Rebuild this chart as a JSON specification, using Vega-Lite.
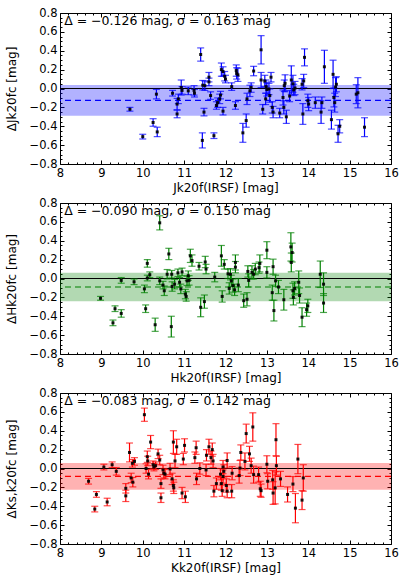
{
  "$schema": "https://vega.github.io/schema/vega-lite/v6.json",
  "padding": {"left": 4, "top": 6, "right": 0, "bottom": 2},
  "background": "white",
  "spacing": 39,
  "bounds": "flush",
  "datasets": {
    "J": [
      {"x":9.69,"y":-0.22,"e":0.02},{"x":10.0,"y":-0.51,"e":0.025},{"x":10.25,"y":-0.36,"e":0.04},{"x":10.35,"y":-0.46,"e":0.05},
      {"x":10.33,"y":-0.06,"e":0.05},{"x":10.72,"y":-0.05,"e":0.03},{"x":10.83,"y":-0.27,"e":0.04},{"x":10.83,"y":-0.165,"e":0.06},
      {"x":10.86,"y":-0.11,"e":0.05},{"x":10.93,"y":0.01,"e":0.08},{"x":10.95,"y":-0.02,"e":0.04},{"x":11.1,"y":-0.025,"e":0.04},
      {"x":11.24,"y":-0.02,"e":0.05},{"x":11.25,"y":-0.05,"e":0.04},{"x":11.4,"y":0.36,"e":0.07},{"x":11.44,"y":-0.55,"e":0.08},
      {"x":11.45,"y":0.035,"e":0.05},{"x":11.5,"y":0.03,"e":0.05},{"x":11.48,"y":-0.25,"e":0.04},{"x":11.6,"y":0.12,"e":0.05},
      {"x":11.6,"y":0.07,"e":0.04},{"x":11.64,"y":-0.075,"e":0.04},{"x":11.72,"y":-0.5,"e":0.03},{"x":11.78,"y":-0.18,"e":0.04},
      {"x":11.81,"y":-0.15,"e":0.05},{"x":11.86,"y":-0.11,"e":0.05},{"x":11.88,"y":-0.07,"e":0.04},{"x":11.9,"y":0.2,"e":0.07},
      {"x":11.94,"y":0.18,"e":0.05},{"x":11.94,"y":-0.24,"e":0.04},{"x":11.98,"y":0.13,"e":0.05},{"x":12.0,"y":0.1,"e":0.04},
      {"x":12.15,"y":0.02,"e":0.04},{"x":12.24,"y":-0.18,"e":0.04},{"x":12.26,"y":0.19,"e":0.06},{"x":12.27,"y":0.16,"e":0.06},
      {"x":12.3,"y":0.145,"e":0.07},{"x":12.42,"y":-0.47,"e":0.1},{"x":12.5,"y":-0.34,"e":0.07},{"x":12.52,"y":-0.11,"e":0.06},
      {"x":12.59,"y":-0.025,"e":0.06},{"x":12.62,"y":0.01,"e":0.05},{"x":12.68,"y":0.185,"e":0.05},{"x":12.86,"y":0.41,"e":0.15},
      {"x":12.86,"y":0.09,"e":0.08},{"x":12.9,"y":-0.22,"e":0.05},{"x":12.95,"y":0.08,"e":0.06},{"x":12.97,"y":-0.11,"e":0.06},
      {"x":12.98,"y":0.02,"e":0.07},{"x":13.0,"y":-0.01,"e":0.07},{"x":13.05,"y":-0.005,"e":0.06},{"x":13.07,"y":-0.075,"e":0.07},
      {"x":13.1,"y":0.12,"e":0.05},{"x":13.13,"y":-0.2,"e":0.06},{"x":13.15,"y":-0.25,"e":0.06},{"x":13.31,"y":-0.26,"e":0.05},
      {"x":13.39,"y":-0.095,"e":0.08},{"x":13.41,"y":-0.2,"e":0.07},{"x":13.42,"y":0.03,"e":0.06},{"x":13.44,"y":0.055,"e":0.09},
      {"x":13.47,"y":-0.3,"e":0.07},{"x":13.55,"y":-0.08,"e":0.06},{"x":13.59,"y":0.09,"e":0.15},{"x":13.63,"y":0.05,"e":0.09},
      {"x":13.65,"y":-0.015,"e":0.06},{"x":13.68,"y":0.005,"e":0.07},{"x":13.85,"y":0.045,"e":0.06},{"x":13.87,"y":-0.27,"e":0.11},
      {"x":13.89,"y":0.08,"e":0.07},{"x":13.91,"y":0.33,"e":0.09},{"x":13.99,"y":-0.13,"e":0.07},{"x":14.01,"y":-0.165,"e":0.07},
      {"x":14.17,"y":-0.15,"e":0.06},{"x":14.31,"y":-0.25,"e":0.12},{"x":14.33,"y":-0.15,"e":0.06},{"x":14.39,"y":0.23,"e":0.175},
      {"x":14.56,"y":-0.33,"e":0.1},{"x":14.6,"y":0.15,"e":0.15},{"x":14.62,"y":-0.095,"e":0.1},{"x":14.64,"y":-0.15,"e":0.1},
      {"x":14.66,"y":0.015,"e":0.1},{"x":14.68,"y":0.045,"e":0.08},{"x":14.72,"y":-0.48,"e":0.09},{"x":14.76,"y":-0.4,"e":0.07},
      {"x":15.16,"y":-0.06,"e":0.1},{"x":15.2,"y":-0.045,"e":0.16},{"x":15.36,"y":-0.41,"e":0.1}
    ],
    "H": [
      {"x":8.98,"y":-0.21,"e":0.02},{"x":9.28,"y":-0.47,"e":0.03},{"x":9.33,"y":-0.32,"e":0.03},{"x":9.48,"y":-0.37,"e":0.04},
      {"x":9.48,"y":-0.02,"e":0.03},{"x":9.79,"y":-0.035,"e":0.03},{"x":10.04,"y":-0.11,"e":0.04},{"x":10.07,"y":-0.32,"e":0.04},
      {"x":10.11,"y":0.16,"e":0.04},{"x":10.11,"y":0.005,"e":0.03},{"x":10.17,"y":0.04,"e":0.03},{"x":10.3,"y":-0.49,"e":0.07},
      {"x":10.41,"y":0.59,"e":0.075},{"x":10.41,"y":-0.025,"e":0.04},{"x":10.49,"y":-0.07,"e":0.04},{"x":10.52,"y":-0.13,"e":0.05},
      {"x":10.59,"y":0.045,"e":0.05},{"x":10.63,"y":0.26,"e":0.06},{"x":10.69,"y":-0.51,"e":0.11},{"x":10.7,"y":0.045,"e":0.04},
      {"x":10.71,"y":-0.085,"e":0.05},{"x":10.77,"y":-0.06,"e":0.05},{"x":10.85,"y":0.06,"e":0.04},{"x":10.89,"y":-0.04,"e":0.05},
      {"x":10.92,"y":-0.11,"e":0.05},{"x":10.95,"y":0.07,"e":0.04},{"x":11.03,"y":-0.165,"e":0.05},{"x":11.05,"y":-0.19,"e":0.05},
      {"x":11.07,"y":-0.025,"e":0.05},{"x":11.1,"y":0.03,"e":0.05},{"x":11.12,"y":-0.02,"e":0.05},{"x":11.15,"y":0.24,"e":0.07},
      {"x":11.19,"y":0.19,"e":0.06},{"x":11.36,"y":0.13,"e":0.04},{"x":11.4,"y":-0.305,"e":0.1},{"x":11.49,"y":-0.245,"e":0.07},
      {"x":11.51,"y":0.175,"e":0.06},{"x":11.53,"y":0.1,"e":0.05},{"x":11.74,"y":0.015,"e":0.05},{"x":11.9,"y":0.24,"e":0.11},
      {"x":11.92,"y":-0.19,"e":0.06},{"x":11.97,"y":0.15,"e":0.05},{"x":12.06,"y":0.05,"e":0.05},{"x":12.09,"y":-0.105,"e":0.06},
      {"x":12.12,"y":0.045,"e":0.06},{"x":12.14,"y":-0.025,"e":0.06},{"x":12.18,"y":-0.075,"e":0.07},{"x":12.22,"y":-0.12,"e":0.06},
      {"x":12.24,"y":0.17,"e":0.08},{"x":12.24,"y":0.12,"e":0.06},{"x":12.31,"y":-0.07,"e":0.07},{"x":12.44,"y":-0.235,"e":0.07},
      {"x":12.52,"y":-0.22,"e":0.07},{"x":12.54,"y":0.075,"e":0.06},{"x":12.56,"y":-0.02,"e":0.07},{"x":12.64,"y":0.065,"e":0.07},
      {"x":12.68,"y":0.045,"e":0.05},{"x":12.72,"y":0.1,"e":0.06},{"x":12.83,"y":0.16,"e":0.09},{"x":12.81,"y":0.115,"e":0.06},
      {"x":13.0,"y":0.3,"e":0.09},{"x":13.0,"y":0.065,"e":0.06},{"x":13.13,"y":-0.15,"e":0.08},{"x":13.15,"y":0.125,"e":0.08},
      {"x":13.17,"y":-0.34,"e":0.11},{"x":13.21,"y":-0.025,"e":0.06},{"x":13.28,"y":-0.09,"e":0.07},{"x":13.41,"y":-0.225,"e":0.11},
      {"x":13.58,"y":0.335,"e":0.15},{"x":13.59,"y":0.17,"e":0.1},{"x":13.61,"y":0.275,"e":0.1},{"x":13.63,"y":-0.13,"e":0.08},
      {"x":13.64,"y":-0.2,"e":0.08},{"x":13.67,"y":-0.105,"e":0.07},{"x":13.77,"y":-0.04,"e":0.12},{"x":13.79,"y":-0.18,"e":0.08},
      {"x":13.85,"y":-0.41,"e":0.1},{"x":13.96,"y":-0.33,"e":0.07},{"x":13.99,"y":-0.29,"e":0.07},{"x":14.29,"y":0.045,"e":0.14},
      {"x":14.37,"y":-0.06,"e":0.12},{"x":14.37,"y":-0.26,"e":0.1}
    ],
    "K": [
      {"x":8.69,"y":-0.135,"e":0.03},{"x":8.84,"y":-0.43,"e":0.03},{"x":8.88,"y":-0.275,"e":0.03},{"x":9.06,"y":0.015,"e":0.03},
      {"x":9.14,"y":-0.355,"e":0.04},{"x":9.26,"y":0.04,"e":0.03},{"x":9.36,"y":-0.03,"e":0.04},{"x":9.59,"y":-0.21,"e":0.05},
      {"x":9.59,"y":-0.29,"e":0.06},{"x":9.68,"y":0.17,"e":0.1},{"x":9.72,"y":-0.1,"e":0.05},{"x":9.75,"y":0.055,"e":0.04},
      {"x":9.76,"y":-0.145,"e":0.05},{"x":9.8,"y":0.075,"e":0.04},{"x":10.04,"y":0.57,"e":0.07},{"x":10.08,"y":0.0,"e":0.05},
      {"x":10.11,"y":0.125,"e":0.06},{"x":10.12,"y":0.08,"e":0.05},{"x":10.14,"y":-0.06,"e":0.05},{"x":10.19,"y":0.28,"e":0.07},
      {"x":10.25,"y":0.04,"e":0.04},{"x":10.27,"y":0.015,"e":0.04},{"x":10.31,"y":0.03,"e":0.04},{"x":10.37,"y":0.155,"e":0.05},
      {"x":10.41,"y":0.09,"e":0.05},{"x":10.44,"y":-0.16,"e":0.05},{"x":10.44,"y":-0.31,"e":0.05},{"x":10.49,"y":-0.015,"e":0.05},
      {"x":10.51,"y":-0.05,"e":0.05},{"x":10.54,"y":-0.06,"e":0.05},{"x":10.66,"y":-0.005,"e":0.06},{"x":10.71,"y":-0.11,"e":0.06},
      {"x":10.74,"y":0.28,"e":0.12},{"x":10.74,"y":-0.18,"e":0.06},{"x":10.75,"y":-0.205,"e":0.06},{"x":10.78,"y":0.08,"e":0.07},
      {"x":10.82,"y":0.23,"e":0.08},{"x":10.95,"y":-0.26,"e":0.06},{"x":10.98,"y":0.1,"e":0.06},{"x":11.01,"y":0.245,"e":0.07},
      {"x":11.03,"y":-0.3,"e":0.06},{"x":11.26,"y":0.115,"e":0.06},{"x":11.29,"y":0.22,"e":0.07},{"x":11.3,"y":-0.11,"e":0.06},
      {"x":11.38,"y":0.0,"e":0.06},{"x":11.53,"y":-0.015,"e":0.06},{"x":11.54,"y":0.14,"e":0.06},{"x":11.6,"y":0.23,"e":0.08},
      {"x":11.65,"y":0.115,"e":0.07},{"x":11.68,"y":0.2,"e":0.07},{"x":11.7,"y":0.08,"e":0.07},{"x":11.72,"y":-0.24,"e":0.06},
      {"x":11.78,"y":-0.16,"e":0.06},{"x":11.88,"y":-0.06,"e":0.06},{"x":11.9,"y":-0.16,"e":0.07},{"x":11.92,"y":-0.235,"e":0.06},
      {"x":11.94,"y":-0.085,"e":0.07},{"x":11.94,"y":0.015,"e":0.07},{"x":11.96,"y":-0.03,"e":0.07},{"x":12.02,"y":-0.18,"e":0.07},
      {"x":12.04,"y":-0.24,"e":0.07},{"x":12.04,"y":0.085,"e":0.08},{"x":12.15,"y":-0.24,"e":0.07},{"x":12.16,"y":-0.05,"e":0.07},
      {"x":12.33,"y":-0.075,"e":0.08},{"x":12.35,"y":0.005,"e":0.08},{"x":12.37,"y":0.17,"e":0.08},{"x":12.47,"y":0.075,"e":0.09},
      {"x":12.5,"y":0.37,"e":0.1},{"x":12.58,"y":0.155,"e":0.08},{"x":12.62,"y":0.03,"e":0.08},{"x":12.66,"y":0.44,"e":0.15},
      {"x":12.68,"y":-0.065,"e":0.09},{"x":12.8,"y":-0.065,"e":0.08},{"x":12.84,"y":-0.215,"e":0.08},{"x":12.86,"y":-0.235,"e":0.07},
      {"x":13.0,"y":0.045,"e":0.09},{"x":13.02,"y":-0.135,"e":0.08},{"x":13.14,"y":-0.12,"e":0.1},{"x":13.15,"y":-0.26,"e":0.12},
      {"x":13.2,"y":-0.205,"e":0.17},{"x":13.22,"y":0.305,"e":0.17},{"x":13.23,"y":0.03,"e":0.1},{"x":13.33,"y":-0.11,"e":0.08},
      {"x":13.5,"y":-0.275,"e":0.08},{"x":13.63,"y":-0.165,"e":0.08},{"x":13.69,"y":-0.42,"e":0.155},{"x":13.75,"y":0.1,"e":0.155},
      {"x":13.85,"y":-0.335,"e":0.1},{"x":13.88,"y":-0.1,"e":0.14}
    ]
  },
  "vconcat": [
    {
      "width": 331, "height": 151,
      "layer": [
        {"data": {"values": [{"lo": -0.289, "hi": 0.037}]},
         "mark": {"type": "rect", "color": "#0000ff", "opacity": 0.3},
         "encoding": {"y": {"field": "lo", "type": "quantitative", "scale": {"domain": [-0.8, 0.8], "nice": false, "zero": false},
                            "axis": {"orient": "right", "values": [-0.8,-0.6,-0.4,-0.2,0,0.2,0.4,0.6,0.8], "tickSize": -4, "labels": false, "title": null}},
                      "y2": {"field": "hi"}}},
        {"data": {"values": [{"z": 0}]},
         "mark": {"type": "rule", "color": "black", "strokeWidth": 1},
         "encoding": {"y": {"field": "z", "type": "quantitative",
                            "axis": {"orient": "right", "values": [-0.75,-0.7,-0.65,-0.55,-0.5,-0.45,-0.35,-0.3,-0.25,-0.15,-0.1,-0.05,0.05,0.1,0.15,0.25,0.3,0.35,0.45,0.5,0.55,0.65,0.7,0.75], "tickSize": -2, "labels": false, "title": null}}}},
        {"data": {"values": [{"m": -0.126}]},
         "mark": {"type": "rule", "color": "#0000ff", "strokeWidth": 1.2, "strokeDash": [6, 4]},
         "encoding": {"y": {"field": "m", "type": "quantitative", "axis": null}}},
        {"data": {"name": "J"},
         "mark": {"type": "errorbar", "color": "#0000ff", "thickness": 1.2, "ticks": {"size": 7}},
         "encoding": {"x": {"field": "x", "type": "quantitative", "scale": {"domain": [8, 16], "nice": false, "zero": false},
                            "axis": {"orient": "bottom", "values": [8,9,10,11,12,13,14,15,16], "format": "d", "tickSize": -4, "labelPadding": 7, "title": "Jk20f(IRSF) [mag]", "titlePadding": 4}},
                      "y": {"field": "y", "type": "quantitative",
                            "axis": {"orient": "left", "values": [-0.8,-0.6,-0.4,-0.2,0,0.2,0.4,0.6,0.8], "format": ".1f", "tickSize": -4, "labelPadding": 7, "title": "ΔJk20fc [mag]", "titlePadding": 11}},
                      "yError": {"field": "e"}}},
        {"data": {"name": "J"},
         "mark": {"type": "square", "size": 9, "color": "#000000", "opacity": 0.9},
         "encoding": {"x": {"field": "x", "type": "quantitative",
                            "axis": {"orient": "bottom", "values": [8.2,8.4,8.6,8.8,9.2,9.4,9.6,9.8,10.2,10.4,10.6,10.8,11.2,11.4,11.6,11.8,12.2,12.4,12.6,12.8,13.2,13.4,13.6,13.8,14.2,14.4,14.6,14.8,15.2,15.4,15.6,15.8], "tickSize": -2, "labels": false, "title": null}},
                      "y": {"field": "y", "type": "quantitative",
                            "axis": {"orient": "left", "values": [-0.75,-0.7,-0.65,-0.55,-0.5,-0.45,-0.35,-0.3,-0.25,-0.15,-0.1,-0.05,0.05,0.1,0.15,0.25,0.3,0.35,0.45,0.5,0.55,0.65,0.7,0.75], "tickSize": -2, "labels": false, "title": null}}}},
        {"data": {"values": [{"tx": 8.1, "ty": 0.715, "t": "Δ = −0.126 mag, σ = 0.163 mag"}]},
         "mark": {"type": "text", "align": "left", "baseline": "middle", "fontSize": 12.5, "font": "DejaVu Sans", "color": "black"},
         "encoding": {"x": {"field": "tx", "type": "quantitative",
                            "axis": {"orient": "top", "values": [8,9,10,11,12,13,14,15,16], "tickSize": -4, "labels": false, "title": null}},
                      "y": {"field": "ty", "type": "quantitative", "axis": null},
                      "text": {"field": "t"}}},
        {"data": {"name": "J"},
         "mark": {"type": "point", "opacity": 0},
         "encoding": {"x": {"field": "x", "type": "quantitative",
                            "axis": {"orient": "top", "values": [8.2,8.4,8.6,8.8,9.2,9.4,9.6,9.8,10.2,10.4,10.6,10.8,11.2,11.4,11.6,11.8,12.2,12.4,12.6,12.8,13.2,13.4,13.6,13.8,14.2,14.4,14.6,14.8,15.2,15.4,15.6,15.8], "tickSize": -2, "labels": false, "title": null}}}}
      ],
      "resolve": {"axis": {"x": "independent", "y": "independent"}}
    },
    {
      "width": 331, "height": 151,
      "layer": [
        {"data": {"values": [{"lo": -0.24, "hi": 0.06}]},
         "mark": {"type": "rect", "color": "#008000", "opacity": 0.3},
         "encoding": {"y": {"field": "lo", "type": "quantitative", "scale": {"domain": [-0.8, 0.8], "nice": false, "zero": false},
                            "axis": {"orient": "right", "values": [-0.8,-0.6,-0.4,-0.2,0,0.2,0.4,0.6,0.8], "tickSize": -4, "labels": false, "title": null}},
                      "y2": {"field": "hi"}}},
        {"data": {"values": [{"z": 0}]},
         "mark": {"type": "rule", "color": "black", "strokeWidth": 1},
         "encoding": {"y": {"field": "z", "type": "quantitative",
                            "axis": {"orient": "right", "values": [-0.75,-0.7,-0.65,-0.55,-0.5,-0.45,-0.35,-0.3,-0.25,-0.15,-0.1,-0.05,0.05,0.1,0.15,0.25,0.3,0.35,0.45,0.5,0.55,0.65,0.7,0.75], "tickSize": -2, "labels": false, "title": null}}}},
        {"data": {"values": [{"m": -0.09}]},
         "mark": {"type": "rule", "color": "#008000", "strokeWidth": 1.2, "strokeDash": [6, 4]},
         "encoding": {"y": {"field": "m", "type": "quantitative", "axis": null}}},
        {"data": {"name": "H"},
         "mark": {"type": "errorbar", "color": "#008000", "thickness": 1.2, "ticks": {"size": 7}},
         "encoding": {"x": {"field": "x", "type": "quantitative", "scale": {"domain": [8, 16], "nice": false, "zero": false},
                            "axis": {"orient": "bottom", "values": [8,9,10,11,12,13,14,15,16], "format": "d", "tickSize": -4, "labelPadding": 7, "title": "Hk20f(IRSF) [mag]", "titlePadding": 4}},
                      "y": {"field": "y", "type": "quantitative",
                            "axis": {"orient": "left", "values": [-0.8,-0.6,-0.4,-0.2,0,0.2,0.4,0.6,0.8], "format": ".1f", "tickSize": -4, "labelPadding": 7, "title": "ΔHk20fc [mag]", "titlePadding": 11}},
                      "yError": {"field": "e"}}},
        {"data": {"name": "H"},
         "mark": {"type": "square", "size": 9, "color": "#000000", "opacity": 0.9},
         "encoding": {"x": {"field": "x", "type": "quantitative",
                            "axis": {"orient": "bottom", "values": [8.2,8.4,8.6,8.8,9.2,9.4,9.6,9.8,10.2,10.4,10.6,10.8,11.2,11.4,11.6,11.8,12.2,12.4,12.6,12.8,13.2,13.4,13.6,13.8,14.2,14.4,14.6,14.8,15.2,15.4,15.6,15.8], "tickSize": -2, "labels": false, "title": null}},
                      "y": {"field": "y", "type": "quantitative",
                            "axis": {"orient": "left", "values": [-0.75,-0.7,-0.65,-0.55,-0.5,-0.45,-0.35,-0.3,-0.25,-0.15,-0.1,-0.05,0.05,0.1,0.15,0.25,0.3,0.35,0.45,0.5,0.55,0.65,0.7,0.75], "tickSize": -2, "labels": false, "title": null}}}},
        {"data": {"values": [{"tx": 8.1, "ty": 0.715, "t": "Δ = −0.090 mag, σ = 0.150 mag"}]},
         "mark": {"type": "text", "align": "left", "baseline": "middle", "fontSize": 12.5, "font": "DejaVu Sans", "color": "black"},
         "encoding": {"x": {"field": "tx", "type": "quantitative",
                            "axis": {"orient": "top", "values": [8,9,10,11,12,13,14,15,16], "tickSize": -4, "labels": false, "title": null}},
                      "y": {"field": "ty", "type": "quantitative", "axis": null},
                      "text": {"field": "t"}}},
        {"data": {"name": "H"},
         "mark": {"type": "point", "opacity": 0},
         "encoding": {"x": {"field": "x", "type": "quantitative",
                            "axis": {"orient": "top", "values": [8.2,8.4,8.6,8.8,9.2,9.4,9.6,9.8,10.2,10.4,10.6,10.8,11.2,11.4,11.6,11.8,12.2,12.4,12.6,12.8,13.2,13.4,13.6,13.8,14.2,14.4,14.6,14.8,15.2,15.4,15.6,15.8], "tickSize": -2, "labels": false, "title": null}}}}
      ],
      "resolve": {"axis": {"x": "independent", "y": "independent"}}
    },
    {
      "width": 331, "height": 151,
      "layer": [
        {"data": {"values": [{"lo": -0.225, "hi": 0.059}]},
         "mark": {"type": "rect", "color": "#ff0000", "opacity": 0.3},
         "encoding": {"y": {"field": "lo", "type": "quantitative", "scale": {"domain": [-0.8, 0.8], "nice": false, "zero": false},
                            "axis": {"orient": "right", "values": [-0.8,-0.6,-0.4,-0.2,0,0.2,0.4,0.6,0.8], "tickSize": -4, "labels": false, "title": null}},
                      "y2": {"field": "hi"}}},
        {"data": {"values": [{"z": 0}]},
         "mark": {"type": "rule", "color": "black", "strokeWidth": 1},
         "encoding": {"y": {"field": "z", "type": "quantitative",
                            "axis": {"orient": "right", "values": [-0.75,-0.7,-0.65,-0.55,-0.5,-0.45,-0.35,-0.3,-0.25,-0.15,-0.1,-0.05,0.05,0.1,0.15,0.25,0.3,0.35,0.45,0.5,0.55,0.65,0.7,0.75], "tickSize": -2, "labels": false, "title": null}}}},
        {"data": {"values": [{"m": -0.083}]},
         "mark": {"type": "rule", "color": "#ff0000", "strokeWidth": 1.2, "strokeDash": [6, 4]},
         "encoding": {"y": {"field": "m", "type": "quantitative", "axis": null}}},
        {"data": {"name": "K"},
         "mark": {"type": "errorbar", "color": "#ff0000", "thickness": 1.2, "ticks": {"size": 7}},
         "encoding": {"x": {"field": "x", "type": "quantitative", "scale": {"domain": [8, 16], "nice": false, "zero": false},
                            "axis": {"orient": "bottom", "values": [8,9,10,11,12,13,14,15,16], "format": "d", "tickSize": -4, "labelPadding": 7, "title": "Kk20f(IRSF) [mag]", "titlePadding": 4}},
                      "y": {"field": "y", "type": "quantitative",
                            "axis": {"orient": "left", "values": [-0.8,-0.6,-0.4,-0.2,0,0.2,0.4,0.6,0.8], "format": ".1f", "tickSize": -4, "labelPadding": 7, "title": "ΔKs,k20fc [mag]", "titlePadding": 11}},
                      "yError": {"field": "e"}}},
        {"data": {"name": "K"},
         "mark": {"type": "square", "size": 9, "color": "#000000", "opacity": 0.9},
         "encoding": {"x": {"field": "x", "type": "quantitative",
                            "axis": {"orient": "bottom", "values": [8.2,8.4,8.6,8.8,9.2,9.4,9.6,9.8,10.2,10.4,10.6,10.8,11.2,11.4,11.6,11.8,12.2,12.4,12.6,12.8,13.2,13.4,13.6,13.8,14.2,14.4,14.6,14.8,15.2,15.4,15.6,15.8], "tickSize": -2, "labels": false, "title": null}},
                      "y": {"field": "y", "type": "quantitative",
                            "axis": {"orient": "left", "values": [-0.75,-0.7,-0.65,-0.55,-0.5,-0.45,-0.35,-0.3,-0.25,-0.15,-0.1,-0.05,0.05,0.1,0.15,0.25,0.3,0.35,0.45,0.5,0.55,0.65,0.7,0.75], "tickSize": -2, "labels": false, "title": null}}}},
        {"data": {"values": [{"tx": 8.1, "ty": 0.715, "t": "Δ = −0.083 mag, σ = 0.142 mag"}]},
         "mark": {"type": "text", "align": "left", "baseline": "middle", "fontSize": 12.5, "font": "DejaVu Sans", "color": "black"},
         "encoding": {"x": {"field": "tx", "type": "quantitative",
                            "axis": {"orient": "top", "values": [8,9,10,11,12,13,14,15,16], "tickSize": -4, "labels": false, "title": null}},
                      "y": {"field": "ty", "type": "quantitative", "axis": null},
                      "text": {"field": "t"}}},
        {"data": {"name": "K"},
         "mark": {"type": "point", "opacity": 0},
         "encoding": {"x": {"field": "x", "type": "quantitative",
                            "axis": {"orient": "top", "values": [8.2,8.4,8.6,8.8,9.2,9.4,9.6,9.8,10.2,10.4,10.6,10.8,11.2,11.4,11.6,11.8,12.2,12.4,12.6,12.8,13.2,13.4,13.6,13.8,14.2,14.4,14.6,14.8,15.2,15.4,15.6,15.8], "tickSize": -2, "labels": false, "title": null}}}}
      ],
      "resolve": {"axis": {"x": "independent", "y": "independent"}}
    }
  ],
  "config": {
    "font": "DejaVu Sans",
    "view": {"stroke": "black", "strokeWidth": 1},
    "axis": {"domain": false, "grid": false, "tickColor": "black", "tickWidth": 1, "labelColor": "black",
             "labelFont": "DejaVu Sans", "labelFontSize": 11.5, "titleFont": "DejaVu Sans", "titleFontSize": 12,
             "titleFontWeight": "normal", "titleColor": "black", "labelFlush": false, "labelOverlap": false, "labelBound": false}
  }
}
